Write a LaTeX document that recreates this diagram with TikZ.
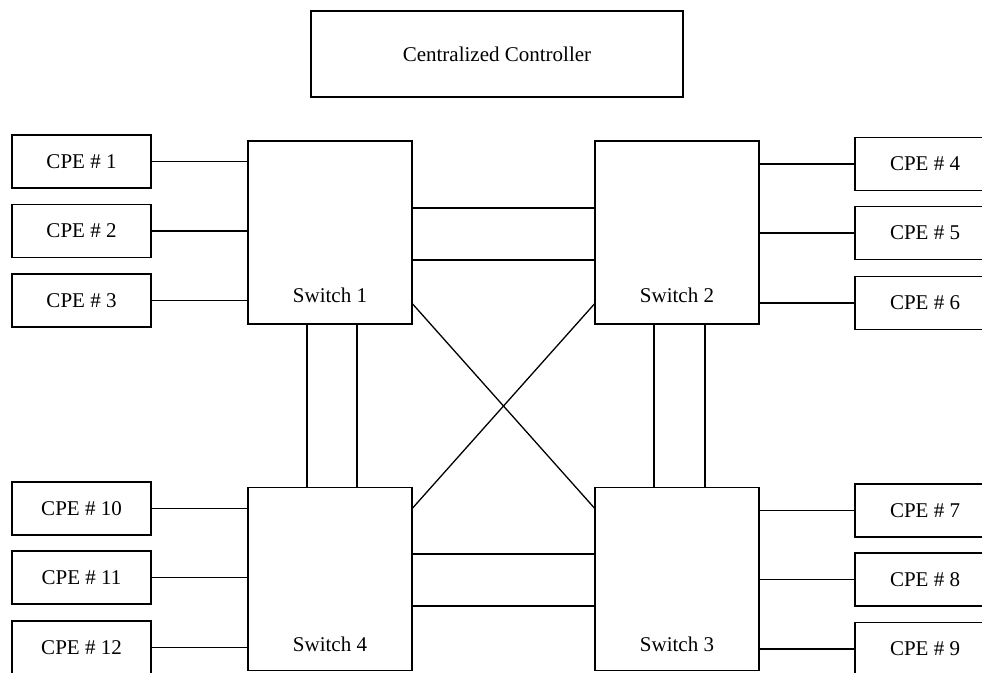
\documentclass[tikz,border=0pt]{standalone}
\usepackage{fontspec}
\setmainfont{Liberation Serif}
\begin{document}
\begin{tikzpicture}[x=1pt, y=-1pt,
  box/.style={draw, line width=1.3pt, rectangle, inner sep=0pt, fill=white},
  cpebox/.style={box, minimum width=139pt, minimum height=53pt},
  rcpebox/.style={box, minimum width=140pt, minimum height=53pt},
  switchbox/.style={box, minimum width=164pt, minimum height=183pt},
  lbl/.style={anchor=base, inner sep=0pt},
  link/.style={line width=1.3pt},
  font=\fontsize{21}{25}\selectfont]
\useasboundingbox (0,0) rectangle (982,672);
\clip (0,0) rectangle (982,672);
\fill[white] (0,0) rectangle (982,672);

% controller
\node[box, minimum width=372pt, minimum height=86pt] (ctrl) at (497,54) {Centralized Controller};

% switches
\node[switchbox] (s1) at (330,232.5) {};
\node[switchbox] (s2) at (677,232.5) {};
\node[switchbox] (s4) at (330,579) {};
\node[switchbox] (s3) at (677,579) {};
\node[lbl] (t1) at (330,302) {Switch 1};
\node[lbl] (t2) at (677,302) {Switch 2};
\node[lbl] (t4) at (330,651) {Switch 4};
\node[lbl] (t3) at (677,651) {Switch 3};

% customer premises equipment, left
\node[cpebox] (c1) at (81.5,161.5) {CPE \# 1};
\node[cpebox] (c2) at (81.5,231) {CPE \# 2};
\node[cpebox] (c3) at (81.5,300.5) {CPE \# 3};
\node[cpebox] (c10) at (81.5,508.5) {CPE \# 10};
\node[cpebox] (c11) at (81.5,577.5) {CPE \# 11};
\node[cpebox] (c12) at (81.5,647.5) {CPE \# 12};

% customer premises equipment, right
\node[rcpebox] (c4) at (925,164) {CPE \# 4};
\node[rcpebox] (c5) at (925,233) {CPE \# 5};
\node[rcpebox] (c6) at (925,303) {CPE \# 6};
\node[rcpebox] (c7) at (925,510.5) {CPE \# 7};
\node[rcpebox] (c8) at (925,579.5) {CPE \# 8};
\node[rcpebox] (c9) at (925,649) {CPE \# 9};

% access links
\foreach \c in {c1,c2,c3} \draw[link] (\c.east) -- (\c.east -| s1.west);
\foreach \c in {c10,c11,c12} \draw[link] (\c.east) -- (\c.east -| s4.west);
\foreach \c in {c4,c5,c6} \draw[link] (\c.west) -- (\c.west -| s2.east);
\foreach \c in {c7,c8,c9} \draw[link] (\c.west) -- (\c.west -| s3.east);

% trunk links between switches
\draw[link] ([yshift=24.5pt]s1.east) -- ([yshift=24.5pt]s1.east -| s2.west);
\draw[link] ([yshift=-27.5pt]s1.east) -- ([yshift=-27.5pt]s1.east -| s2.west);
\draw[link] ([yshift=25pt]s4.east) -- ([yshift=25pt]s4.east -| s3.west);
\draw[link] ([yshift=-27pt]s4.east) -- ([yshift=-27pt]s4.east -| s3.west);
\draw[link] ([xshift=-23pt]s1.south) -- ([xshift=-23pt]s1.south |- s4.north);
\draw[link] ([xshift=27pt]s1.south) -- ([xshift=27pt]s1.south |- s4.north);
\draw[link] ([xshift=-23pt]s2.south) -- ([xshift=-23pt]s2.south |- s3.north);
\draw[link] ([xshift=28pt]s2.south) -- ([xshift=28pt]s2.south |- s3.north);
\draw[link] ([yshift=-71.5pt]s1.east) -- ([yshift=71pt]s3.west);
\draw[link] ([yshift=-71.5pt]s2.west) -- ([yshift=71pt]s4.east);
\end{tikzpicture}
\end{document}
